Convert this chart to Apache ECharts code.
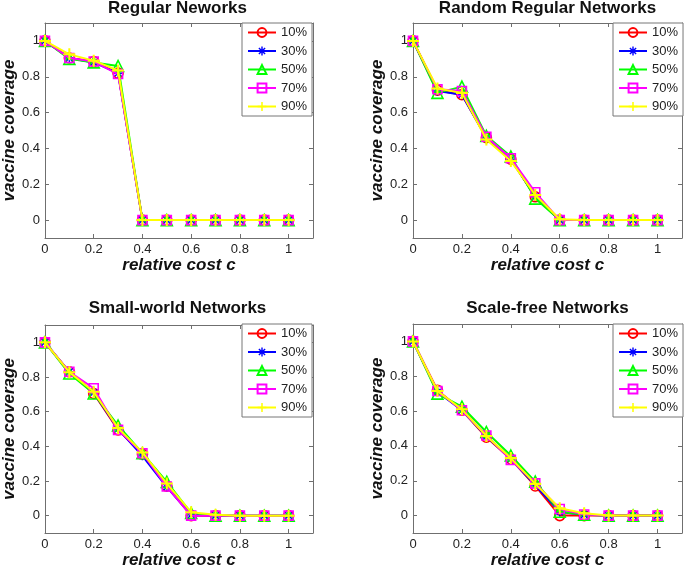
<!DOCTYPE html>
<html>
<head>
<meta charset="utf-8">
<script src="https://cdn.jsdelivr.net/npm/echarts@6/dist/echarts.min.js"></script>
<style>html,body{margin:0;padding:0;background:#fff}#c{width:685px;height:570px}</style>
</head>
<body>
<div id="c"></div>
<script>
// ---------- data ----------
const xValues = [0, 0.1, 0.2, 0.3, 0.4, 0.5, 0.6, 0.7, 0.8, 0.9, 1];
const xTicks = [0, 0.2, 0.4, 0.6, 0.8, 1];
const yTicks = [0, 0.2, 0.4, 0.6, 0.8, 1];
const seriesNames = ['10%', '30%', '50%', '70%', '90%'];
const panelTitles = ['Regular Neworks', 'Random Regular Networks', 'Small-world Networks', 'Scale-free Networks'];
const xAxisTitle = 'relative cost c';
const yAxisTitle = 'vaccine coverage';

// Regular networks
const regular10 = [1, 0.905, 0.885, 0.82, 0, 0, 0, 0, 0, 0, 0];
const regular30 = [1, 0.905, 0.88, 0.82, 0, 0, 0, 0, 0, 0, 0];
const regular50 = [1, 0.9, 0.88, 0.86, 0, 0, 0, 0, 0, 0, 0];
const regular70 = [1, 0.905, 0.885, 0.815, 0, 0, 0, 0, 0, 0, 0];
const regular90 = [1, 0.925, 0.89, 0.835, 0, 0, 0, 0, 0, 0, 0];
// Random regular networks
const random10 = [1, 0.725, 0.70, 0.46, 0.34, 0.13, 0, 0, 0, 0, 0];
const random30 = [1, 0.72, 0.70, 0.46, 0.34, 0.13, 0, 0, 0, 0, 0];
const random50 = [1, 0.71, 0.745, 0.47, 0.355, 0.12, 0, 0, 0, 0, 0];
const random70 = [1, 0.73, 0.72, 0.465, 0.345, 0.155, 0, 0, 0, 0, 0];
const random90 = [1, 0.735, 0.71, 0.45, 0.33, 0.14, 0.005, 0, 0, 0, 0];
// Small-world networks
const small10 = [1, 0.83, 0.705, 0.495, 0.355, 0.17, 0, 0, 0, 0, 0];
const small30 = [1, 0.83, 0.71, 0.5, 0.345, 0.165, 0.005, 0, 0, 0, 0];
const small50 = [1, 0.82, 0.705, 0.52, 0.36, 0.195, 0.015, 0, 0, 0, 0];
const small70 = [1, 0.83, 0.735, 0.495, 0.36, 0.168, 0, 0, 0, 0, 0];
const small90 = [1, 0.828, 0.715, 0.505, 0.365, 0.185, 0.02, 0.005, 0, 0, 0];
// Scale-free networks
const scale10 = [1, 0.72, 0.605, 0.45, 0.325, 0.17, 0, 0, 0, 0, 0];
const scale30 = [1, 0.71, 0.605, 0.455, 0.325, 0.175, 0.02, 0.005, 0, 0, 0];
const scale50 = [1, 0.70, 0.625, 0.48, 0.345, 0.195, 0.022, 0.005, 0, 0, 0];
const scale70 = [1, 0.715, 0.605, 0.46, 0.32, 0.185, 0.038, 0.006, 0, 0, 0];
const scale90 = [1, 0.715, 0.61, 0.457, 0.33, 0.182, 0.042, 0.013, 0, 0, 0];

const panelData = [
  [regular10, regular30, regular50, regular70, regular90],
  [random10, random30, random50, random70, random90],
  [small10, small30, small50, small70, small90],
  [scale10, scale30, scale50, scale70, scale90]
];

// ---------- styles ----------
function barsPath(angles, thick) {
  let s = 'path://';
  angles.forEach(a => {
    const r = a * Math.PI / 180;
    const dx = Math.cos(r), dy = Math.sin(r), nx = -dy, ny = dx;
    const pts = [[10 + 10 * dx + thick * nx, 10 + 10 * dy + thick * ny],
                 [10 - 10 * dx + thick * nx, 10 - 10 * dy + thick * ny],
                 [10 - 10 * dx - thick * nx, 10 - 10 * dy - thick * ny],
                 [10 + 10 * dx - thick * nx, 10 + 10 * dy - thick * ny]];
    s += 'M' + pts.map(p => p[0].toFixed(3) + ',' + p[1].toFixed(3)).join(' L') + ' Z ';
  });
  return s;
}
const asterisk = barsPath([0, 45, 90, 135], 1.6);
const plus = barsPath([0, 90], 1.7);

const styles = [
  { color: '#ff0000', symbol: 'circle', size: 10, hollow: true },
  { color: '#0000ff', symbol: asterisk, size: 9, hollow: false },
  { color: '#00ff00', symbol: 'triangle', size: 11, hollow: true },
  { color: '#ff00ff', symbol: 'rect', size: 9, hollow: true },
  { color: '#ffff00', symbol: plus, size: 12, hollow: false }
];

const grids = [
  { left: 42, top: 23, width: 271, height: 215 },
  { left: 413, top: 23, width: 269, height: 215 },
  { left: 42, top: 325, width: 271, height: 212 },
  { left: 413, top: 324, width: 269, height: 213 }
];
const legendPos = [
  { left: 242, top: 23 }, { left: 613, top: 23 },
  { left: 242, top: 324 }, { left: 613, top: 324 }
];

const axisColor = '#6f6f6f';
const labelColor = '#222';
const font = '"Liberation Sans", Arial, Helvetica, sans-serif';

const option = {
  animation: false,
  backgroundColor: '#fff',
  textStyle: { fontFamily: font },
  title: [], grid: [], xAxis: [], yAxis: [], legend: [], series: []
};

grids.forEach((g, i) => {
  option.grid.push(Object.assign({ containLabel: false }, g));
  option.title.push({
    text: panelTitles[i],
    left: g.left + g.width / 2,
    top: i < 2 ? 0 : 300,
    textAlign: 'center',
    padding: 0,
    textStyle: { fontSize: 17, fontWeight: 'bold', color: '#111', fontFamily: font }
  });
  const common = {
    type: 'value', gridIndex: i,
    splitLine: { show: false },
    axisLine: { show: true, onZero: false, lineStyle: { color: axisColor, width: 1 } }
  };
  option.xAxis.push(Object.assign({}, common, {
    position: 'bottom', min: 0, max: 1.1,
    name: xAxisTitle, nameLocation: 'middle', nameGap: 19,
    nameTextStyle: { fontSize: 17, fontWeight: 'bold', fontStyle: 'italic', color: '#111', fontFamily: font },
    axisTick: { show: true, inside: true, length: 4, lineStyle: { color: axisColor }, customValues: xTicks },
    axisLabel: { show: true, margin: 5, fontSize: 13, color: labelColor, fontFamily: font, customValues: xTicks }
  }));
  option.xAxis.push(Object.assign({}, common, {
    position: 'top', min: 0, max: 1.1,
    axisTick: { show: true, inside: true, length: 4, lineStyle: { color: axisColor }, customValues: xTicks },
    axisLabel: { show: false }
  }));
  option.yAxis.push(Object.assign({}, common, {
    position: 'left', min: -0.1, max: 1.1,
    name: yAxisTitle, nameLocation: 'middle', nameGap: 23,
    nameTextStyle: { fontSize: 17, fontWeight: 'bold', fontStyle: 'italic', color: '#111', fontFamily: font },
    axisTick: { show: true, inside: true, length: 4, lineStyle: { color: axisColor }, customValues: yTicks },
    axisLabel: { show: true, margin: 5, fontSize: 13, color: labelColor, fontFamily: font, customValues: yTicks }
  }));
  option.yAxis.push(Object.assign({}, common, {
    position: 'right', min: -0.1, max: 1.1,
    axisTick: { show: true, inside: true, length: 4, lineStyle: { color: axisColor }, customValues: yTicks },
    axisLabel: { show: false }
  }));
  option.legend.push({
    orient: 'vertical',
    left: legendPos[i].left, top: legendPos[i].top,
    data: seriesNames,
    selectedMode: false,
    itemWidth: 28, itemHeight: 11, itemGap: 5.5,
    padding: [3, 5, 3, 5],
    backgroundColor: '#fff',
    borderColor: '#777', borderWidth: 1, borderRadius: 0,
    textStyle: { fontSize: 13, color: labelColor, fontFamily: font }
  });
  panelData[i].forEach((vals, k) => {
    const st = styles[k];
    option.series.push({
      type: 'line',
      name: seriesNames[k],
      xAxisIndex: 2 * i, yAxisIndex: 2 * i,
      data: xValues.map((x, j) => [x, vals[j]]),
      symbol: st.symbol,
      symbolSize: st.size,
      showAllSymbol: true,
      color: st.color,
      lineStyle: { color: st.color, width: 2 },
      itemStyle: st.hollow
        ? { color: 'rgba(255,255,255,0)', borderColor: st.color, borderWidth: 1.6 }
        : { color: st.color, borderWidth: 0 },
      emphasis: { disabled: true },
      z: 2 + k
    });
  });
});

const chart = echarts.init(document.getElementById('c'), null, { renderer: 'canvas' });
chart.setOption(option);
</script>
</body>
</html>
